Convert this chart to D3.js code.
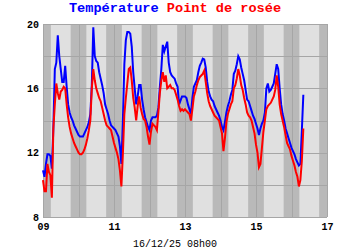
<!DOCTYPE html>
<html>
<head>
<meta charset="utf-8">
<script src="https://cdn.jsdelivr.net/npm/d3@7"></script>
<style>
  body { margin: 0; background: #fff; }
  text { font-family: "Liberation Mono", "DejaVu Sans Mono", monospace; }
</style>
</head>
<body>
<svg width="350" height="250"></svg>
<script>
// data: hourly readings starting 09/12 00h00
var startTime = Date.UTC(2025, 11, 9, 0);
var temperature = [
  10.9, 10.5, 11.3, 11.9, 11.9, 11.8, 11.0, 13.5, 17.2, 17.6, 19.3, 18.0,
  17.2, 16.4, 16.4, 17.4, 16.1, 15.0, 14.5, 14.2, 14.0, 13.7, 13.5, 13.3,
  13.1, 13.0, 13.0, 13.0, 13.2, 13.4, 13.6, 13.9, 14.4, 16.2, 19.8, 18.0,
  17.7, 17.6, 17.0, 16.6, 16.2, 15.7, 15.0, 14.7, 14.4, 14.0, 13.7, 13.6,
  13.5, 13.4, 13.2, 13.0, 12.4, 11.3, 14.0, 17.5, 19.0, 19.5, 19.5, 19.4,
  18.6, 17.0, 16.0, 15.0, 15.5, 16.2, 16.2, 15.3, 14.7, 14.2, 13.9, 13.6,
  13.4, 14.0, 14.2, 14.2, 14.2, 14.3, 14.8, 16.1, 17.2, 18.7, 18.3, 18.6,
  18.9, 17.6, 17.0, 16.8, 16.7, 16.6, 16.3, 16.1, 15.0, 15.25, 15.5, 15.5,
  15.5, 15.4, 15.0, 14.7, 14.4, 15.4, 16.1, 16.3, 16.5, 17.0, 17.4, 17.6,
  17.85, 17.8, 17.3, 16.4, 15.8, 15.5, 15.3, 15.2, 14.9, 14.7, 14.5, 14.3,
  14.0, 13.6, 13.4, 13.9, 14.5, 14.9, 15.2, 15.6, 15.9, 16.9, 17.1, 17.5,
  18.0, 17.8, 17.3, 16.9, 16.5, 15.9, 15.3, 15.2, 14.9, 14.6, 14.3, 14.1,
  13.8, 13.5, 13.1, 13.5, 13.8, 14.0, 14.5, 16.0, 16.3, 15.8, 15.9, 16.1,
  16.3, 16.9, 17.5, 17.2, 16.0, 15.0, 14.4, 14.0, 13.5, 13.2, 12.9, 12.6,
  12.3, 12.1, 11.9, 11.6, 11.4, 11.2, 11.3, 13.4, 15.6
];
var dewPoint = [
  10.3, 9.6, 9.6, 11.3, 10.8, 10.6, 9.2, 13.5, 15.0, 16.3, 15.7, 15.3,
  15.8, 15.9, 16.1, 16.0, 15.0, 14.2, 13.6, 13.2, 12.9, 12.6, 12.4, 12.2,
  12.0, 11.9, 11.9, 12.0, 12.2, 12.5, 12.9, 13.4, 14.0, 16.0, 17.2, 16.5,
  16.0, 15.7, 15.4, 15.2, 14.8, 14.4, 14.0, 13.7, 13.6, 13.5, 13.4, 13.0,
  12.6, 12.3, 12.0, 11.6, 10.9, 9.9, 11.9, 14.4, 15.4, 16.3, 17.2, 17.3,
  16.5, 15.4, 14.8, 14.0, 14.9, 15.5, 14.8, 14.4, 14.1, 14.0, 13.6, 13.0,
  12.5, 13.3, 13.8, 13.7, 13.6, 13.4, 14.5, 15.7, 16.5, 17.0, 16.4, 16.8,
  16.0, 16.1, 16.2, 16.0, 16.0, 15.9, 15.6, 15.3, 14.9, 14.6, 14.7, 14.6,
  14.7, 14.6, 14.5, 14.4, 14.0, 14.7, 15.5, 15.8, 16.2, 16.5, 16.7, 16.8,
  16.9, 17.1, 16.4, 15.7, 15.2, 14.9, 14.7, 14.5, 14.3, 14.2, 14.1, 14.0,
  13.6, 13.2, 12.1, 12.9, 13.9, 14.4, 14.7, 15.0, 15.2, 16.0, 16.2, 16.6,
  17.2, 16.8, 16.2, 15.9, 15.4, 15.0, 14.5, 14.3, 14.2, 14.0, 13.6, 13.2,
  12.5, 12.0, 11.1, 11.3, 12.3, 13.3, 14.0, 14.7, 14.9, 15.0, 15.1, 15.3,
  15.5, 15.9, 16.8, 16.1, 15.0, 14.4, 14.0, 13.6, 13.1, 12.6, 12.4, 12.2,
  11.8, 11.5, 11.2, 10.8, 10.5, 9.9, 10.3, 11.5, 13.5
];
var days = [9, 10, 11, 12, 13, 14, 15, 16];
var xTickDays = [9, 11, 13, 15, 17];
var yTicks = [8, 12, 16, 20];
var yGrid = [10, 12, 14, 16, 18];
var daylight = [5.3, 18.7]; // hours shaded light
var stamp = "16/12/25 08h00";

var svg = d3.select("svg");
var margin = { top: 24, right: 23, bottom: 33, left: 43 };
var w = 350, h = 250;

var hour = 3600 * 1000;
function dayDate(d) { return new Date(Date.UTC(2025, 11, d)); }

var x = d3.scaleUtc()
  .domain([dayDate(9), dayDate(17)])
  .range([margin.left, w - margin.right]);
var y = d3.scaleLinear()
  .domain([8, 20])
  .range([h - margin.bottom, margin.top]);

// night background
svg.append("rect")
  .attr("x", x.range()[0])
  .attr("y", y(20))
  .attr("width", x.range()[1] - x.range()[0])
  .attr("height", y(8) - y(20))
  .attr("fill", "#b9b9b9");

// daylight bands
svg.append("g").selectAll("rect")
  .data(days)
  .enter()
  .append("rect")
  .attr("x", function(d) { return x(new Date(+dayDate(d) + daylight[0] * hour)); })
  .attr("y", y(20))
  .attr("width", function(d) { return x(new Date(+dayDate(d) + daylight[1] * hour)) - x(new Date(+dayDate(d) + daylight[0] * hour)); })
  .attr("height", y(8) - y(20))
  .attr("fill", "#e0e0e0");

// grid
var grid = svg.append("g")
  .attr("stroke", "#a6a6a6")
  .attr("stroke-width", 1);
grid.selectAll(".v")
  .data(days.concat([17]))
  .enter()
  .append("line")
  .attr("x1", function(d) { return Math.round(x(dayDate(d))) + 0.5; })
  .attr("x2", function(d) { return Math.round(x(dayDate(d))) + 0.5; })
  .attr("y1", y(20))
  .attr("y2", y(8));
grid.selectAll(".h")
  .data(yGrid.concat([8, 20]))
  .enter()
  .append("line")
  .attr("x1", x.range()[0])
  .attr("x2", x.range()[1])
  .attr("y1", function(d) { return Math.round(y(d)) + 0.5; })
  .attr("y2", function(d) { return Math.round(y(d)) + 0.5; });

// lines
function series(values) {
  return values.map(function(v, i) { return { t: new Date(startTime + i * hour), v: v }; });
}
var line = d3.line()
  .x(function(d) { return x(d.t); })
  .y(function(d) { return y(d.v); });

svg.append("path")
  .datum(series(temperature))
  .attr("fill", "none")
  .attr("stroke", "#0000ff")
  .attr("stroke-width", 2)
  .attr("d", line);

svg.append("path")
  .datum(series(dewPoint))
  .attr("fill", "none")
  .attr("stroke", "#ff0000")
  .attr("stroke-width", 2)
  .attr("d", line);

// axes
var xAxis = d3.axisBottom(x)
  .tickValues(xTickDays.map(dayDate))
  .tickFormat(d3.utcFormat("%d"))
  .tickSize(0)
  .tickPadding(6);
var gx = svg.append("g")
  .attr("transform", "translate(0," + y(8) + ")")
  .call(xAxis);
gx.select(".domain").remove();
gx.selectAll("text")
  .attr("font-size", 10)
  .attr("font-weight", "bold")
  .attr("fill", "#000")
  .style("font-family", "'Liberation Mono', monospace");

var yAxis = d3.axisLeft(y)
  .tickValues(yTicks)
  .tickSize(0)
  .tickPadding(4);
var gy = svg.append("g")
  .attr("transform", "translate(" + x.range()[0] + ",0)")
  .call(yAxis);
gy.select(".domain").remove();
gy.selectAll("text")
  .attr("font-size", 10)
  .attr("font-weight", "bold")
  .attr("fill", "#000")
  .style("font-family", "'Liberation Mono', monospace");

// title
var title = svg.append("text")
  .attr("x", w / 2)
  .attr("y", 12)
  .attr("text-anchor", "middle")
  .attr("font-size", 13.6)
  .attr("font-weight", "bold");
title.append("tspan").attr("fill", "#0000ff").text("Température");
title.append("tspan").attr("fill", "#ff0000").text(" Point de rosée");

// date stamp
svg.append("text")
  .attr("x", w / 2)
  .attr("y", 247)
  .attr("text-anchor", "middle")
  .attr("font-size", 10)
  .attr("fill", "#000")
  .text(stamp);
</script>
</body>
</html>
